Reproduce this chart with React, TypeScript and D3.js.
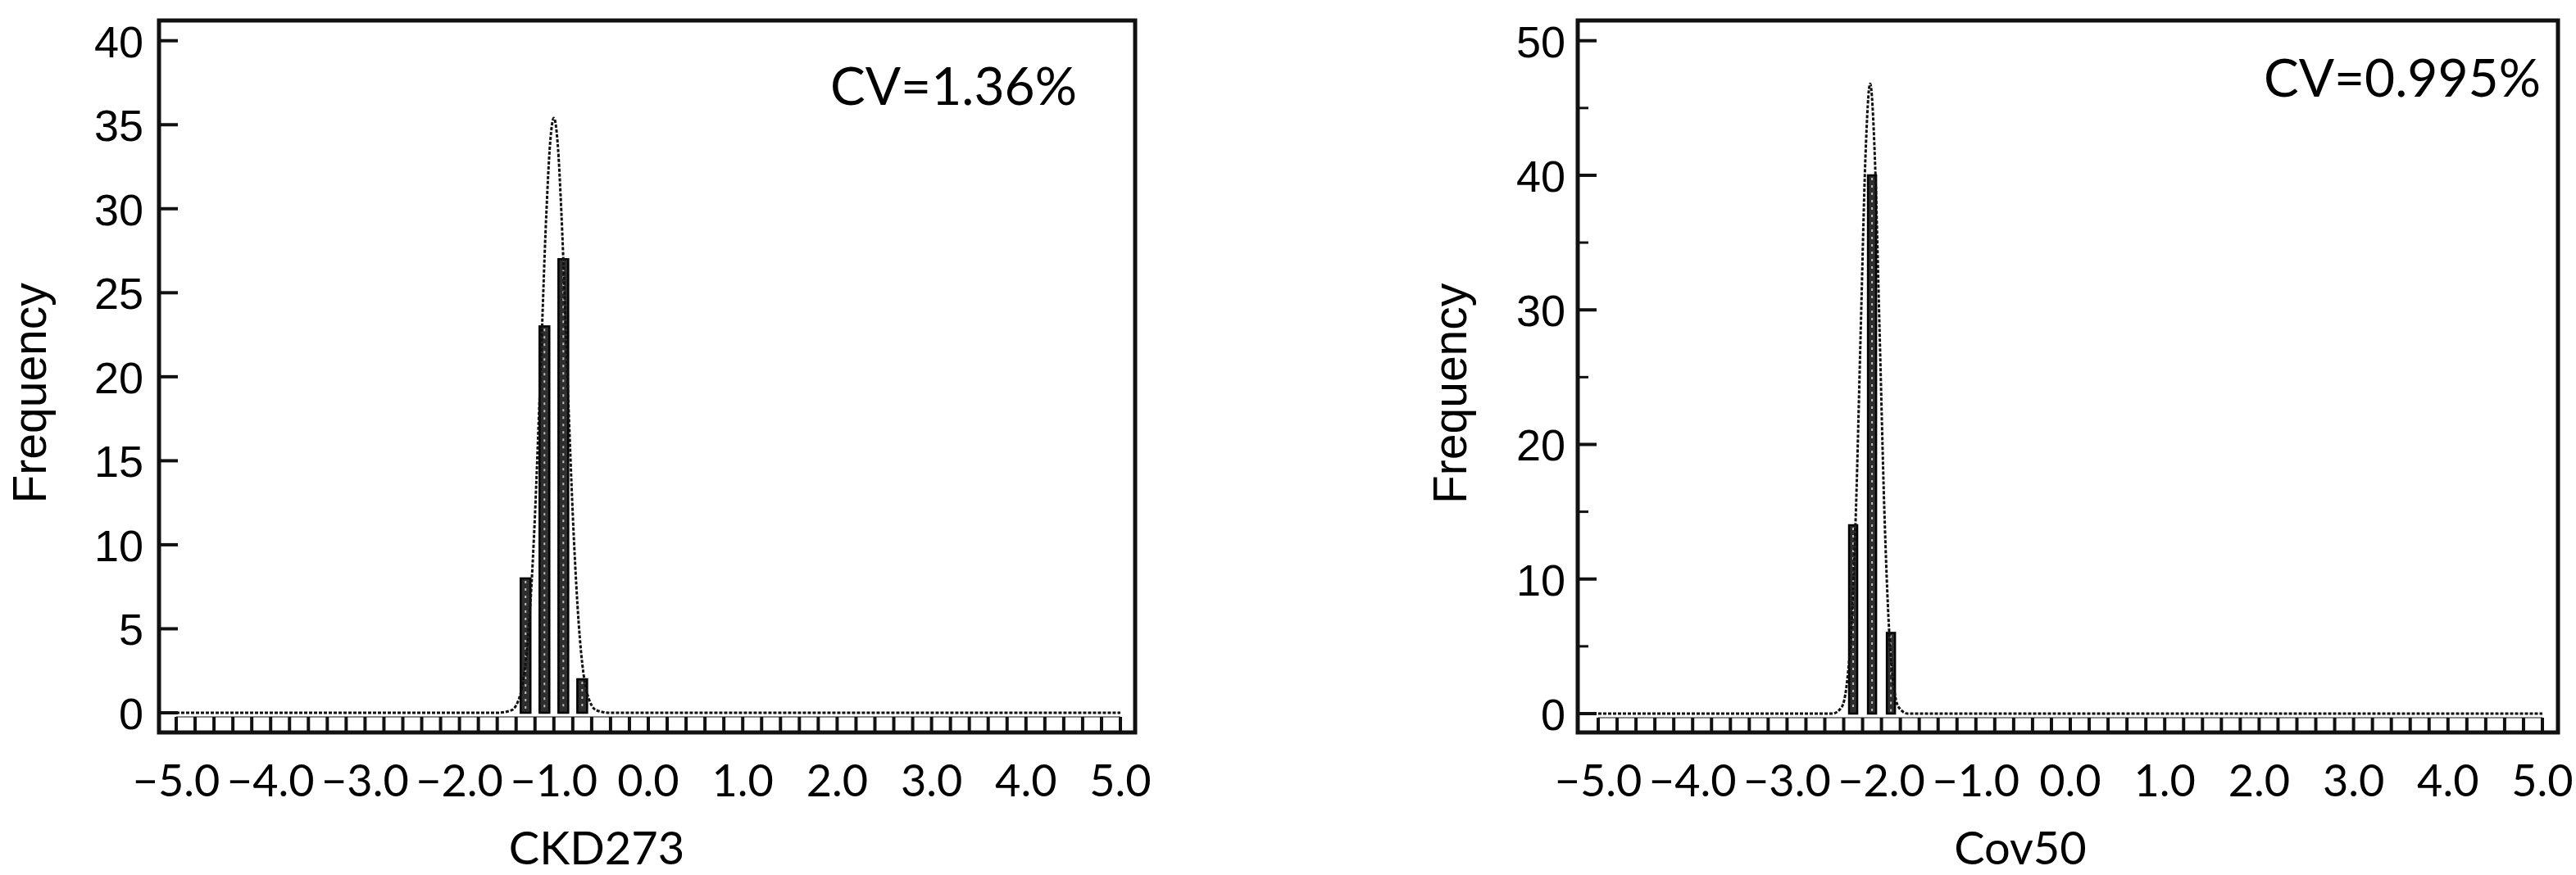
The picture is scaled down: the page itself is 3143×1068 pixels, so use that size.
import React from "react";
import * as d3 from "d3";

// ---------- data ----------
const binCentersA = [-1.3, -1.1, -0.9, -0.7];
const freqA = [8, 23, 27, 2];
const binCentersB = [-2.3, -2.1, -1.9];
const freqB = [14, 40, 6];

// fitted normal curves
const curveXA = [-5, -1.6, -1.45, -1.35, -1.25, -1.2, -1.15, -1.08, -1.04, -1.0, -0.96, -0.92, -0.85, -0.8, -0.75, -0.65, -0.55, -0.4, 5];
const curveYA = [0, 0, 0.15, 1.2, 6.4, 11.8, 19, 29.7, 33.9, 35.4, 33.9, 29.7, 19, 11.8, 6.4, 1.2, 0.15, 0, 0];
const curveXB = [-5, -2.52, -2.42, -2.37, -2.32, -2.27, -2.22, -2.17, -2.12, -2.07, -2.02, -1.97, -1.92, -1.87, -1.82, -1.72, 5];
const curveYB = [0, 0, 0.5, 2.05, 6.3, 15.2, 28.4, 41.3, 46.8, 41.3, 28.4, 15.2, 6.3, 2.05, 0.5, 0, 0];

const xTickValues = [-5, -4, -3, -2, -1, 0, 1, 2, 3, 4, 5];
const yTicksA = [0, 5, 10, 15, 20, 25, 30, 35, 40];
const yMinorA: number[] = [];
const yTicksB = [0, 10, 20, 30, 40, 50];
const yMinorB = [5, 15, 25, 35, 45];
const binWidth = 0.2;

const xLabelA = "CKD273";
const xLabelB = "Cov50";
const cvA = "CV=1.36%";
const cvB = "CV=0.995%";
const yLabel = "Frequency";

// ---------- layout ----------
const W = 3143;
const H = 1068;
const calib = "Lato, 'Open Sans', sans-serif";
const arial = "'Liberation Sans', Arial, sans-serif";

type PanelProps = {
  frame: { x0: number; x1: number; y0: number; y1: number };
  xRange: [number, number];
  yDomainMax: number;
  yTopPx: number;
  yZeroPx: number;
  yTicks: number[];
  yMinor: number[];
  centers: number[];
  freqs: number[];
  curveX: number[];
  curveY: number[];
  barPx: number;
  yLabelX: number;
  tickLabelRight: number;
  xLabel: string;
  xLabelOffset: number;
  cv: string;
  cvX: number;
  cvY: number;
  cvAnchor: "start" | "end";
};

function fmt(v: number) {
  return v < 0 ? "\u2212" + Math.abs(v).toFixed(1) : v.toFixed(1);
}

function Panel(p: PanelProps) {
  const x = d3.scaleLinear().domain([-5, 5]).range(p.xRange);
  const y = d3.scaleLinear().domain([0, p.yDomainMax]).range([p.yZeroPx, p.yTopPx]);
  const edges = d3.range(0, 51).map((i) => -5 + i * binWidth);
  const pts: [number, number][] = p.curveX.map((cx, i) => [cx, p.curveY[i]]);
  const line = d3
    .line<[number, number]>()
    .x((d) => x(d[0]))
    .y((d) => y(d[1]))
    .curve(d3.curveMonotoneX);
  const { x0, x1, y0, y1 } = p.frame;
  const boxTop = p.yZeroPx + 5;
  const midY = (y(0) + y(p.yDomainMax)) / 2 + 20;
  return (
    <g>
      {/* bin grid along bottom */}
      <line x1={x(-5)} x2={x(5)} y1={boxTop} y2={boxTop} stroke="#8a8a8a" strokeWidth={2} />
      {edges.map((e, i) => (
        <line key={"e" + i} x1={x(e)} x2={x(e)} y1={boxTop} y2={y1} stroke="#111" strokeWidth={4} />
      ))}
      {/* bars */}
      {p.centers.map((c, i) => {
        const xl = x(c) - p.barPx / 2;
        const yt = y(p.freqs[i]);
        return (
          <g key={"b" + i}>
            <rect x={xl} y={yt} width={p.barPx} height={y(0) - yt} fill="#2e2e2e" stroke="#000" strokeWidth={2.5} />
            <line x1={x(c)} x2={x(c)} y1={yt + 3} y2={y(0) - 2} stroke="#bdbdbd" strokeWidth={2} strokeDasharray="3 6" />
          </g>
        );
      })}
      {/* fitted curve */}
      <path d={line(pts) || ""} fill="none" stroke="#111" strokeWidth={3} strokeDasharray="4 2" />
      {/* y ticks */}
      {p.yTicks.map((t) => (
        <g key={"yt" + t}>
          <line x1={x0} x2={x0 + 23} y1={y(t)} y2={y(t)} stroke="#111" strokeWidth={4} />
          <text x={p.tickLabelRight} y={y(t) + 20} textAnchor="end" fontFamily={arial} fontSize={54} fill="#000">
            {t}
          </text>
        </g>
      ))}
      {p.yMinor.map((t) => (
        <line key={"ym" + t} x1={x0} x2={x0 + 13} y1={y(t)} y2={y(t)} stroke="#111" strokeWidth={3} />
      ))}
      {/* frame */}
      <rect x={x0} y={y0} width={x1 - x0} height={y1 - y0} fill="none" stroke="#111" strokeWidth={5} />
      {/* x tick labels */}
      {xTickValues.map((v) => (
        <text key={"xl" + v} x={x(v)} y={972} textAnchor="middle" fontFamily={calib} fontSize={54} fill="#000">
          {fmt(v)}
        </text>
      ))}
      <text x={x(0) + p.xLabelOffset} y={1055} textAnchor="middle" fontFamily={calib} fontSize={56} fill="#000">
        {p.xLabel}
      </text>
      <text
        transform={`translate(${p.yLabelX},${midY}) rotate(-90)`}
        textAnchor="middle"
        fontFamily={arial}
        fontSize={57}
        fill="#000"
      >
        {yLabel}
      </text>
      <text x={p.cvX} y={p.cvY} textAnchor={p.cvAnchor} fontFamily={calib} fontSize={64} fill="#000">
        {p.cv}
      </text>
    </g>
  );
}

export default function App() {
  return (
    <svg
      width={W}
      height={H}
      viewBox={`0 0 ${W} ${H}`}
      style={{ position: "absolute", left: 0, top: 0, background: "#fff" }}
    >
      <rect x={0} y={0} width={W} height={H} fill="#fff" />
      <Panel
        frame={{ x0: 194, x1: 1385, y0: 25, y1: 894 }}
        xRange={[215, 1367]}
        yDomainMax={40}
        yTopPx={49.7}
        yZeroPx={870}
        yTicks={yTicksA}
        yMinor={yMinorA}
        centers={binCentersA}
        freqs={freqA}
        curveX={curveXA}
        curveY={curveYA}
        barPx={12}
        yLabelX={56}
        tickLabelRight={175}
        xLabel={xLabelA}
        xLabelOffset={-63}
        cv={cvA}
        cvX={1013}
        cvY={128}
        cvAnchor="start"
      />
      <Panel
        frame={{ x0: 1925, x1: 3121, y0: 25, y1: 894 }}
        xRange={[1950, 3102]}
        yDomainMax={50}
        yTopPx={49.7}
        yZeroPx={871}
        yTicks={yTicksB}
        yMinor={yMinorB}
        centers={binCentersB}
        freqs={freqB}
        curveX={curveXB}
        curveY={curveYB}
        barPx={10}
        yLabelX={1789}
        tickLabelRight={1910}
        xLabel={xLabelB}
        xLabelOffset={-61}
        cv={cvB}
        cvX={3100}
        cvY={118}
        cvAnchor="end"
      />
    </svg>
  );
}
